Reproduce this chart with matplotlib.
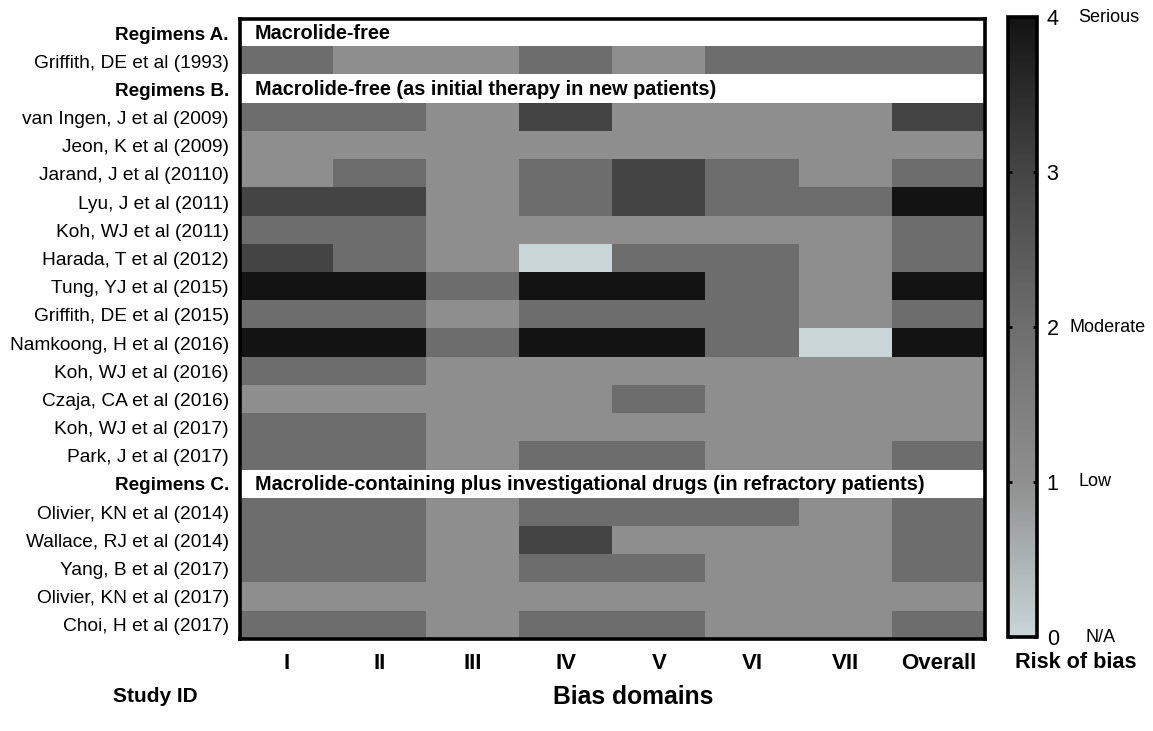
import numpy as np
import matplotlib
matplotlib.use("Agg")
import matplotlib.pyplot as plt
from matplotlib.colors import LinearSegmentedColormap

plt.rcParams['font.family'] = ['Liberation Sans', 'DejaVu Sans']

# Bias domains (columns)
domains = ["I", "II", "III", "IV", "V", "VI", "VII", "Overall"]

# Rows top to bottom; None marks a regimen header row
row_labels = [
    "Regimens A.",
    "Griffith, DE et al (1993)",
    "Regimens B.",
    "van Ingen, J et al (2009)",
    "Jeon, K et al (2009)",
    "Jarand, J et al (20110)",
    "Lyu, J et al (2011)",
    "Koh, WJ et al (2011)",
    "Harada, T et al (2012)",
    "Tung, YJ et al (2015)",
    "Griffith, DE et al (2015)",
    "Namkoong, H et al (2016)",
    "Koh, WJ et al (2016)",
    "Czaja, CA et al (2016)",
    "Koh, WJ et al (2017)",
    "Park, J et al (2017)",
    "Regimens C.",
    "Olivier, KN et al (2014)",
    "Wallace, RJ et al (2014)",
    "Yang, B et al (2017)",
    "Olivier, KN et al (2017)",
    "Choi, H et al (2017)",
]

header_text = {
    "Regimens A.": "Macrolide-free",
    "Regimens B.": "Macrolide-free (as initial therapy in new patients)",
    "Regimens C.": "Macrolide-containing plus investigational drugs (in refractory patients)",
}

# risk of bias scores: 0 N/A, 1 low, 2 moderate, 3, 4 serious
scores = [
    None,
    [2, 1, 1, 2, 1, 2, 2, 2],
    None,
    [2, 2, 1, 3, 1, 1, 1, 3],
    [1, 1, 1, 1, 1, 1, 1, 1],
    [1, 2, 1, 2, 3, 2, 1, 2],
    [3, 3, 1, 2, 3, 2, 2, 4],
    [2, 2, 1, 1, 1, 1, 1, 2],
    [3, 2, 1, 0, 2, 2, 1, 2],
    [4, 4, 2, 4, 4, 2, 1, 4],
    [2, 2, 1, 2, 2, 2, 1, 2],
    [4, 4, 2, 4, 4, 2, 0, 4],
    [2, 2, 1, 1, 1, 1, 1, 1],
    [1, 1, 1, 1, 2, 1, 1, 1],
    [2, 2, 1, 1, 1, 1, 1, 1],
    [2, 2, 1, 2, 2, 1, 1, 2],
    None,
    [2, 2, 1, 2, 2, 2, 1, 2],
    [2, 2, 1, 3, 1, 1, 1, 2],
    [2, 2, 1, 2, 2, 1, 1, 2],
    [1, 1, 1, 1, 1, 1, 1, 1],
    [2, 2, 1, 2, 2, 1, 1, 2],
]

cbar_ticks = [0, 1, 2, 3, 4]
cbar_names = {0: "N/A", 1: "Low", 2: "Moderate", 4: "Serious"}

# build matrix, header rows as NaN (drawn white)
mat = np.array([[np.nan] * len(domains) if s is None else s for s in scores], dtype=float)
mat = np.ma.masked_invalid(mat)

cmap = LinearSegmentedColormap.from_list(
    "rob", [(0.0, "#c9d5d7"), (0.25, "#8f8f8f"), (0.5, "#6e6e6e"),
            (0.75, "#454545"), (1.0, "#131313")])
cmap.set_bad("white")

fig = plt.figure(figsize=(11.53, 7.31), dpi=100)
ax = fig.add_axes([240 / 1153, 1 - 639 / 731, 745 / 1153, 620 / 731])

im = ax.imshow(mat, cmap=cmap, vmin=0, vmax=4, aspect="auto",
               interpolation="nearest")

ax.set_xticks(range(len(domains)))
ax.set_xticklabels(domains, fontsize=16, fontweight="bold")
ax.set_yticks(range(len(row_labels)))
ax.set_yticklabels(row_labels, fontsize=13.8)
for lab in ax.get_yticklabels():
    if lab.get_text() in header_text:
        lab.set_fontweight("bold")
        lab.set_fontsize(13.6)
ax.tick_params(axis="x", length=0, pad=10)
ax.tick_params(axis="y", length=0, pad=8)

for i, lab in enumerate(row_labels):
    if lab in header_text:
        ax.text(-0.34, i, header_text[lab], fontsize=14.3, fontweight="bold",
                va="center", ha="left")

for sp in ax.spines.values():
    sp.set_linewidth(2.6)

# colour bar
cax = fig.add_axes([1008 / 1153, 1 - 637 / 731, 29 / 1153, 620 / 731])
cb = fig.colorbar(im, cax=cax, ticks=cbar_ticks)
cb.outline.set_linewidth(2.6)
cax.tick_params(axis="y", direction="in", length=3, width=2, left=True,
                right=True, labelsize=15.5, pad=7)
cb.set_ticklabels([str(t) for t in cbar_ticks])
name_x = {0: 2.68, 1: 2.43, 2: 2.12, 4: 2.43}
for t, name in cbar_names.items():
    cax.text(name_x[t], t, name, fontsize=13, va="center", ha="left",
             transform=cax.get_yaxis_transform())

fig.text(1076 / 1153, 1 - 662 / 731, "Risk of bias", fontsize=15.6,
         fontweight="bold", ha="center", va="center")
fig.text(155 / 1153, 1 - 697 / 731, "Study ID", fontsize=15,
         fontweight="bold", ha="center", va="center")
fig.text(633 / 1153, 1 - 697 / 731, "Bias domains", fontsize=17.8,
         fontweight="bold", ha="center", va="center")

fig.savefig("out.png", dpi=100)
